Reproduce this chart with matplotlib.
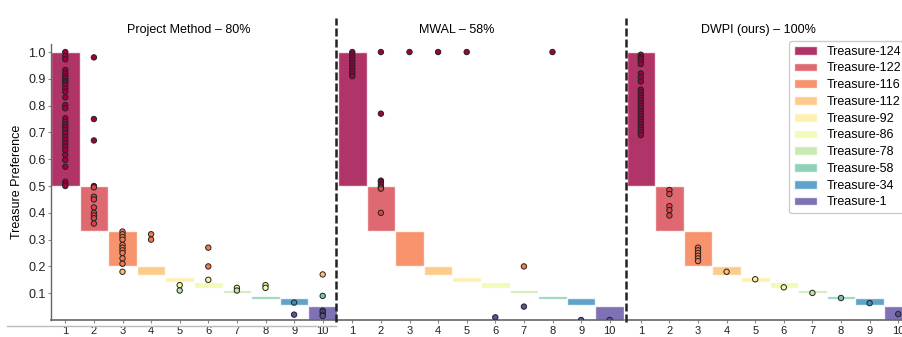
import numpy as np
import matplotlib
matplotlib.use('Agg')
import matplotlib.pyplot as plt
from matplotlib.lines import Line2D
from matplotlib.patches import Patch

plt.rcParams['font.family'] = ['Liberation Sans', 'DejaVu Sans']

#%% data
treasures = ['Treasure-124', 'Treasure-122', 'Treasure-116', 'Treasure-112', 'Treasure-92',
             'Treasure-86', 'Treasure-78', 'Treasure-58', 'Treasure-34', 'Treasure-1']
band_low = [0.5, 0.333, 0.2, 0.167, 0.143, 0.118, 0.1, 0.077, 0.056, 0.0]
band_high = [1.0, 0.5, 0.333, 0.2, 0.16, 0.143, 0.111, 0.091, 0.083, 0.053]
positions = [1, 2, 3, 4, 5, 6, 7, 8, 9, 10]

titles = ['Project Method – 80%', 'MWAL – 58%', 'DWPI (ours) – 100%']
title_x = [0.483, 0.416, 0.46]

proj_vals = [
    [1.0, 0.985, 0.973, 0.933, 0.92, 0.91, 0.902, 0.893, 0.886, 0.877, 0.864, 0.852, 0.831,
     0.802, 0.79, 0.753, 0.74, 0.728, 0.719, 0.709, 0.697, 0.684, 0.672, 0.659, 0.647,
     0.634, 0.616, 0.597, 0.572, 0.516, 0.507, 0.50],
    [0.98, 0.75, 0.67, 0.50, 0.495, 0.46, 0.45, 0.42, 0.40, 0.39, 0.38, 0.36],
    [0.33, 0.32, 0.31, 0.30, 0.28, 0.27, 0.26, 0.25, 0.23, 0.21, 0.18],
    [0.32, 0.30],
    [0.13, 0.11],
    [0.27, 0.20, 0.15],
    [0.12, 0.11],
    [0.13, 0.12],
    [0.065, 0.02],
    [0.17, 0.09, 0.035, 0.03, 0.02, 0.015],
]

mwal_vals = [
    [1.0, 0.99, 0.98, 0.97, 0.96, 0.95, 0.94, 0.93, 0.92, 0.91],
    [1.0, 0.77, 0.52, 0.515, 0.505, 0.495, 0.49, 0.40],
    [1.0],
    [1.0],
    [1.0],
    [0.01],
    [0.20, 0.05],
    [1.0],
    [0.0],
    [0.0],
]

dwpi_vals = [
    [0.99, 0.98, 0.975, 0.965, 0.955, 0.92, 0.905, 0.89, 0.86, 0.85, 0.84, 0.83, 0.82,
     0.81, 0.80, 0.79, 0.78, 0.77, 0.76, 0.75, 0.74, 0.73, 0.72, 0.71, 0.70, 0.69],
    [0.485, 0.47, 0.425, 0.41, 0.39],
    [0.27, 0.26, 0.25, 0.24, 0.23, 0.22],
    [0.18],
    [0.152],
    [0.122],
    [0.101],
    [0.082],
    [0.063],
    [0.022],
]

all_vals = [proj_vals, mwal_vals, dwpi_vals]

colors = plt.cm.Spectral(np.linspace(0, 1, 10))


def band_of(v):
    for i, lo in enumerate(band_low):
        if v >= lo:
            return i
    return len(band_low) - 1


#%% figure
W, H = 902, 337
fig = plt.figure(figsize=(W / 100, H / 100), dpi=100)

lefts = [51, 338, 626.5]
axes = []
for k in range(3):
    ax = fig.add_axes([lefts[k] / W, 17 / H, 286 / W, 276 / H])
    axes.append(ax)

    heights = np.array(band_high) - np.array(band_low)
    ax.bar(positions, heights, bottom=band_low, width=1, color=colors, alpha=0.8,
           edgecolor='white', linewidth=1, zorder=1)

    xs, ys, cs = [], [], []
    for p, vals in zip(positions, all_vals[k]):
        for v in vals:
            xs.append(p)
            ys.append(v)
            cs.append(colors[band_of(v)])
    ax.scatter(xs, ys, s=15, c=cs, edgecolors='#222222', linewidths=0.7, zorder=3)

    ax.set_xlim(0.5, 10.5)
    ax.set_ylim(0, 1.03)
    ax.set_xticks(positions)
    ax.set_xticklabels([str(p) for p in positions], fontsize=8)
    ax.set_title(titles[k], fontsize=9, x=title_x[k], pad=8)

    for s in ['top', 'right']:
        ax.spines[s].set_visible(False)
    ax.spines['bottom'].set_color('#666666')
    ax.spines['bottom'].set_linewidth(1.2)
    ax.tick_params(axis='x', length=2, pad=2, color='#888888', colors='#222222')

    if k == 0:
        ax.spines['left'].set_color('#666666')
        ax.spines['left'].set_linewidth(1.0)
        ax.set_yticks([0.1, 0.2, 0.3, 0.4, 0.5, 0.6, 0.7, 0.8, 0.9, 1.0])
        ax.set_yticklabels(['0.1', '0.2', '0.3', '0.4', '0.5', '0.6', '0.7', '0.8', '0.9', '1.0'],
                           fontsize=9)
        ax.tick_params(axis='y', length=2, pad=2, color='#888888', colors='#222222')
        ax.set_ylabel('Treasure Preference', fontsize=9, labelpad=4)
    else:
        ax.spines['left'].set_visible(False)
        ax.tick_params(axis='y', left=False, labelleft=False)

# legend on the last panel
handles = [Patch(facecolor=c, alpha=0.8, edgecolor='white', label=t) for c, t in zip(colors, treasures)]
axes[2].legend(handles=handles, loc='upper right', bbox_to_anchor=(1.0, 1.035), fontsize=9,
               frameon=True, framealpha=1, edgecolor='#cccccc', borderpad=0.4,
               handlelength=1.8, handletextpad=0.8, labelspacing=0.38)

# dashed separators
for xp in [336, 625.5]:
    fig.add_artist(Line2D([xp / W, xp / W], [1 - 322 / H, 1 - 18 / H], color='#222222',
                          lw=1.8, ls=(0, (3.2, 1.2))))

# light grey line under the first panel
fig.add_artist(Line2D([7 / W, 336 / W], [1 - 326 / H, 1 - 326 / H], color='#bbbbbb', lw=1))

fig.savefig('out.png', dpi=100)
